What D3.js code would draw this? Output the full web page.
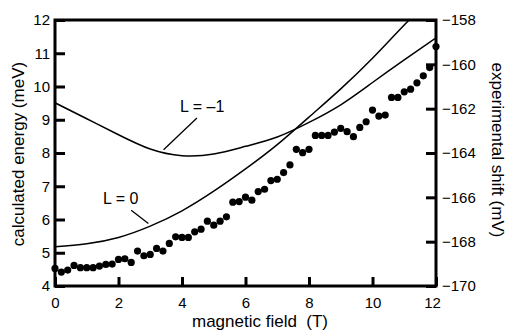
<!DOCTYPE html>
<html>
<head>
<meta charset="utf-8">
<script src="https://cdn.jsdelivr.net/npm/d3@7"></script>
<style>
  html, body { margin: 0; padding: 0; background: #fff; }
  svg { display: block; font-family: "Liberation Sans", Arial, Helvetica, sans-serif; }
</style>
</head>
<body>
<div id="chart"></div>
<script>
// measured data points (field in T, energy on the left scale in meV)
var expField = [0, 0.2, 0.4, 0.6, 0.8, 1.0, 1.2, 1.4, 1.6, 1.8, 2.0, 2.2, 2.4, 2.6, 2.8, 3.0,
  3.2, 3.4, 3.6, 3.8, 4.0, 4.2, 4.4, 4.6, 4.8, 5.0, 5.2, 5.4, 5.6, 5.8, 6.0, 6.2, 6.4, 6.6,
  6.8, 7.0, 7.2, 7.4, 7.6, 7.8, 8.0, 8.2, 8.4, 8.6, 8.8, 9.0, 9.2, 9.4, 9.6, 9.8, 10.0, 10.2,
  10.4, 10.6, 10.8, 11.0, 11.2, 11.4, 11.6, 11.8, 12.0];
var expEnergy = [4.53, 4.42, 4.48, 4.62, 4.55, 4.55, 4.55, 4.6, 4.65, 4.66, 4.8, 4.82, 4.71,
  5.05, 4.91, 4.95, 5.13, 5.05, 5.28, 5.48, 5.46, 5.46, 5.63, 5.71, 5.95, 5.83, 5.95, 6.08,
  6.52, 6.54, 6.67, 6.58, 6.84, 6.91, 7.17, 7.21, 7.41, 7.64, 8.11, 8.01, 8.11, 8.53, 8.53,
  8.53, 8.63, 8.74, 8.64, 8.49, 8.77, 8.94, 9.29, 9.11, 9.14, 9.67, 9.67, 9.84, 9.92, 10.11,
  10.32, 10.57, 11.2];

// calculated levels
var calcField = [0, 1, 2, 3, 4, 5, 6, 7, 8, 9, 10, 11, 12];
var levelL0 = [5.18, 5.27, 5.46, 5.8, 6.26, 6.85, 7.52, 8.25, 9.08, 9.93, 10.85, 11.85, 12.8];
var levelLm1 = [9.51, 9.03, 8.55, 8.12, 7.92, 7.97, 8.2, 8.48, 8.92, 9.45, 10.12, 10.8, 11.46];

var fieldTicks = [0, 2, 4, 6, 8, 10, 12];
var energyTicks = [4, 5, 6, 7, 8, 9, 10, 11, 12];
var shiftTicks = [-170, -168, -166, -164, -162, -160, -158];

var W = 508, H = 330;
var plotL = 55, plotR = 436, plotT = 20, plotB = 286;

var svg = d3.select('#chart').append('svg')
  .attr('width', W).attr('height', H);

var x = d3.scaleLinear().domain([0, 12]).range([plotL, plotR]);
var y = d3.scaleLinear().domain([4, 12]).range([plotB, plotT]);
var y2 = d3.scaleLinear().domain([-170, -158]).range([plotB, plotT]);

svg.append('clipPath').attr('id', 'plot')
  .append('rect').attr('x', plotL).attr('y', plotT)
  .attr('width', plotR - plotL).attr('height', plotB - plotT);

// axes: ticks point inward
function styleAxis(g) {
  g.select('.domain').remove();
  g.selectAll('.tick line').attr('stroke', '#000').attr('stroke-width', 3);
  g.selectAll('.tick text').attr('fill', '#000').style('font-size', '15px');
}

svg.append('g')
  .attr('transform', 'translate(' + plotL + ',0)')
  .call(d3.axisLeft(y).tickValues(energyTicks).tickFormat(d3.format('d'))
    .tickSizeInner(-10).tickSizeOuter(0).tickPadding(5))
  .call(styleAxis);

var xAxis = svg.append('g')
  .attr('transform', 'translate(0,' + plotB + ')')
  .call(d3.axisBottom(x).tickValues(fieldTicks).tickFormat(d3.format('d'))
    .tickSizeInner(-9).tickSizeOuter(0).tickPadding(11))
  .call(styleAxis);
xAxis.selectAll('.tick').filter(function(d) { return d === 12; })
  .select('text').attr('dx', -4);

svg.append('g')
  .attr('transform', 'translate(' + plotR + ',0)')
  .call(d3.axisRight(y2).tickValues(shiftTicks).tickFormat(d3.format('d'))
    .tickSizeInner(-10).tickSizeOuter(0).tickPadding(6))
  .call(styleAxis);

// frame
svg.append('rect')
  .attr('x', plotL).attr('y', plotT)
  .attr('width', plotR - plotL).attr('height', plotB - plotT)
  .attr('fill', 'none').attr('stroke', '#000').attr('stroke-width', 3);

// calculated curves
var line = d3.line()
  .x(function(d) { return x(d[0]); })
  .y(function(d) { return y(d[1]); })
  .curve(d3.curveNatural);

[levelL0, levelLm1].forEach(function(level) {
  svg.append('path')
    .datum(d3.zip(calcField, level))
    .attr('clip-path', 'url(#plot)')
    .attr('fill', 'none').attr('stroke', '#000').attr('stroke-width', 1.5)
    .attr('d', line);
});

// measured points
svg.append('g').selectAll('circle')
  .data(d3.zip(expField, expEnergy))
  .join('circle')
  .attr('cx', function(d) { return x(d[0]); })
  .attr('cy', function(d) { return y(d[1]); })
  .attr('r', 3.6)
  .attr('fill', '#000');

// curve labels with leader lines
svg.append('text').attr('x', 180).attr('y', 112)
  .style('font-size', '16px').text('L = –1');
svg.append('line')
  .attr('x1', x(4.47)).attr('y1', y(9.05)).attr('x2', x(3.42)).attr('y2', y(8.1))
  .attr('stroke', '#000').attr('stroke-width', 1.3);

svg.append('text').attr('x', 103).attr('y', 204)
  .style('font-size', '16px').text('L = 0');
svg.append('line')
  .attr('x1', x(2.4)).attr('y1', y(6.28)).attr('x2', x(2.94)).attr('y2', y(5.88))
  .attr('stroke', '#000').attr('stroke-width', 1.3);

// axis titles
svg.append('text')
  .attr('transform', 'translate(24,' + 154 + ') rotate(-90)')
  .attr('text-anchor', 'middle').style('font-size', '17px')
  .text('calculated energy (meV)');

svg.append('text')
  .attr('transform', 'translate(492,' + 150 + ') rotate(90)')
  .attr('text-anchor', 'middle').style('font-size', '17px')
  .text('experimental shift (mV)');

svg.append('text')
  .attr('x', 260).attr('y', 327)
  .attr('text-anchor', 'middle').style('font-size', '17px')
  .style('white-space', 'pre')
  .text('magnetic field  (T)');
</script>
</body>
</html>
